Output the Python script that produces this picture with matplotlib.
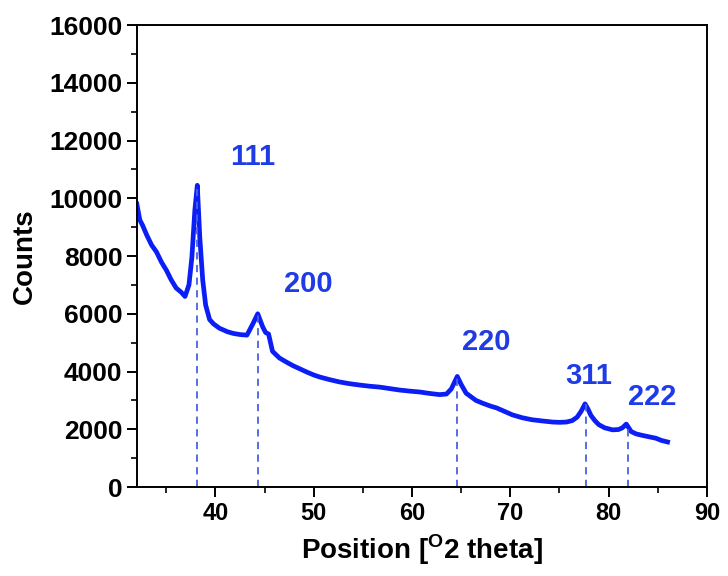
import numpy as np
import matplotlib
matplotlib.use("Agg")
import matplotlib.pyplot as plt
from matplotlib.ticker import MultipleLocator

plt.rcParams['font.family'] = ['Liberation Sans', 'DejaVu Sans']
plt.rcParams['font.weight'] = 'bold'
plt.rcParams['mathtext.fontset'] = 'custom'
plt.rcParams['mathtext.rm'] = 'Liberation Sans:bold'
plt.rcParams['mathtext.bf'] = 'Liberation Sans:bold'

# XRD pattern
two_theta = [32.0, 32.3, 32.6, 33.0, 33.5, 34.0, 34.5, 35.0, 35.5, 36.0, 36.5, 36.9,
             37.3, 37.6, 37.9, 38.15, 38.4, 38.7, 39.0, 39.4, 39.8, 40.4, 41.2, 41.8,
             42.5, 43.2, 43.8, 44.3, 44.8, 45.1, 45.4, 45.8, 46.5, 47.2, 47.9, 48.6,
             49.3, 50.0, 50.6, 51.6, 52.6, 53.6, 54.7, 55.7, 56.7, 57.7, 58.7, 59.8,
             60.8, 61.8, 62.8, 63.5, 64.0, 64.6, 65.0, 65.5, 66.1, 66.5, 67.2, 68.0,
             68.6, 69.4, 70.2, 71.2, 72.2, 73.2, 74.3, 75.0, 75.7, 76.3, 76.8, 77.2,
             77.6, 77.9, 78.2, 78.6, 79.0, 79.6, 80.4, 81.0, 81.4, 81.8, 82.3, 82.8,
             83.4, 84.1, 84.8, 85.4, 86.0]
counts = [9800, 9250, 9050, 8730, 8380, 8140, 7790, 7510, 7170, 6890, 6750, 6600,
          7000, 7960, 9590, 10450, 8660, 7170, 6300, 5800, 5650, 5500, 5380, 5320,
          5280, 5260, 5650, 6000, 5550, 5350, 5300, 4700, 4470, 4330, 4200, 4090,
          3980, 3880, 3810, 3720, 3640, 3580, 3530, 3490, 3460, 3410, 3360, 3320,
          3290, 3240, 3200, 3220, 3400, 3830, 3550, 3250, 3100, 3000, 2900, 2800,
          2740, 2620, 2500, 2400, 2330, 2290, 2250, 2240, 2250, 2300, 2420, 2620,
          2880, 2700, 2480, 2300, 2160, 2050, 1980, 1990, 2050, 2180, 1920, 1840,
          1790, 1740, 1690, 1610, 1560]

peak_pos = [38.15, 44.3, 64.6, 77.66, 81.95]
peak_top = [10450, 6000, 3830, 2880, 2180]
peak_labels = ['111', '200', '220', '311', '222']
label_x = [43.8, 49.4, 67.5, 78.0, 84.4]
label_y = [11430, 7030, 5020, 3840, 3120]

fig = plt.figure(figsize=(7.28, 5.76), dpi=100)
ax = fig.add_axes([0.188, 0.1545, 0.783, 0.802])

ax.plot(two_theta, counts, color='#0a1ef5', lw=3.4, solid_joinstyle='round')
ax.vlines(peak_pos, 0, peak_top, colors='#4a62e0', linestyles=(0, (4, 3)), lw=1.3)
for t, x, y in zip(peak_labels, label_x, label_y):
    ax.text(x, y, t, color='#1e3be6', fontsize=21, fontweight='bold',
            ha='center', va='center')

ax.set_xlim(32, 90)
ax.set_ylim(0, 16000)
ax.xaxis.set_major_locator(MultipleLocator(10))
ax.xaxis.set_minor_locator(MultipleLocator(5))
ax.yaxis.set_major_locator(MultipleLocator(2000))
ax.yaxis.set_minor_locator(MultipleLocator(1000))
ax.tick_params(which='major', direction='out', length=7, width=1.4)
ax.tick_params(which='minor', direction='out', length=4, width=1.2)
ax.tick_params(axis='x', labelsize=17)
ax.tick_params(axis='y', labelsize=19)
for s in ax.spines.values():
    s.set_linewidth(1.4)

ax.set_xlabel(r'Position [$^{\mathbf{O}}$2 theta]', fontsize=20, fontweight='bold', labelpad=6)
ax.set_ylabel('Counts', fontsize=20, fontweight='bold', labelpad=8)

plt.savefig('out.png', dpi=100)
